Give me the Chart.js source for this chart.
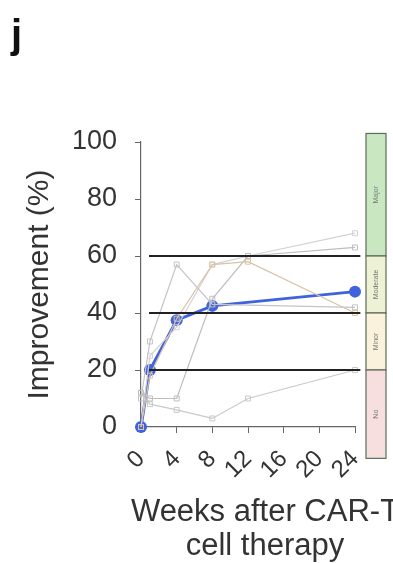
<!DOCTYPE html>
<html>
<head>
<meta charset="utf-8">
<script src="https://cdn.jsdelivr.net/npm/chart.js@4.4.1/dist/chart.umd.min.js"></script>
<style>
  html, body { margin: 0; padding: 0; background: #fff; }
</style>
</head>
<body>
<canvas id="chart" width="393" height="563"></canvas>
<script>
// data
const weeks = [0, 1, 4, 8, 12, 24];
const meanWeeks = [0, 1, 4, 8, 24];
const meanImprovement = [0, 20, 37.5, 42.5, 47.5];
const patientA = [10, 30, 57, 43, null, 42];
const patientB = [0, 18, 38, 57, 58, 40];
const patientC = [12, 10, 10, 45, 60, 63];
const patientD = [12, 8, 6, 3, 10, 20];
const patientE = [0, 25, 35, 57, 60, 68];
const responseLevels = [20, 40, 60];
const bandLabels = ["Major", "Moderate", "Minor", "No"];
const bandEdges = [103, 60, 40, 20, -11];
const xTicks = [0, 4, 8, 12, 16, 20, 24];
const yTicks = [0, 20, 40, 60, 80, 100];

const FONT = "'Liberation Sans', Arial, sans-serif";

function pts(xs, ys) {
    return xs.map((x, i) => ({ x: x, y: ys[i] }));
}

function patient(values, color) {
    return {
        data: pts(weeks, values),
        borderColor: color,
        backgroundColor: "rgba(255,255,255,0)",
        borderWidth: 1.2,
        pointStyle: "rect",
        pointRadius: 3.5,
        pointBorderWidth: 1,
        pointBorderColor: color,
        spanGaps: true,
        clip: false,
    };
}

const datasets = [];

// response cut-offs
responseLevels.forEach((lvl) => {
    datasets.push({
        data: [{ x: 0.9, y: lvl }, { x: 24.6, y: lvl }],
        borderColor: "#222",
        borderWidth: 2,
        pointRadius: 0,
        clip: false,
    });
});

datasets.push(patient(patientA, "#c4c4c4"));
datasets.push(patient(patientB, "#d9c3a6"));
datasets.push(patient(patientC, "#bdbdbd"));
datasets.push(patient(patientD, "#c9c9c9"));
datasets.push(patient(patientE, "#d2d2d2"));

// mean
datasets.push({
    data: pts(meanWeeks, meanImprovement),
    borderColor: "#3f63dc",
    backgroundColor: "#3f63dc",
    borderWidth: 3,
    pointRadius: 6,
    pointBorderWidth: 0,
    clip: false,
});

// side bar with response categories
const bandColors = ["#c9e8c2", "#eef2d4", "#fbf2dd", "#f7dfe0"];
const sideBar = {
    id: "sideBar",
    afterDatasetsDraw(chart) {
        const { ctx, scales: { y } } = chart;
        const x0 = 366, w = 20;
        ctx.save();
        for (let i = 0; i < bandLabels.length; i++) {
            const top = y.getPixelForValue(bandEdges[i]);
            const bot = y.getPixelForValue(bandEdges[i + 1]);
            ctx.fillStyle = bandColors[i];
            ctx.fillRect(x0, top, w, bot - top);
            ctx.strokeStyle = "#5d6b58";
            ctx.lineWidth = 1.2;
            ctx.strokeRect(x0, top, w, bot - top);
            ctx.save();
            ctx.translate(x0 + w / 2, (top + bot) / 2);
            ctx.rotate(-Math.PI / 2);
            ctx.fillStyle = "#777";
            ctx.font = "7px " + FONT;
            ctx.textAlign = "center";
            ctx.textBaseline = "middle";
            ctx.fillText(bandLabels[i], 0, 0);
            ctx.restore();
        }
        ctx.restore();
    },
};

// x title (wider than the plot, so drawn by hand)
const xTitle = {
    id: "xTitle",
    afterDraw(chart) {
        const { ctx, chartArea } = chart;
        const cx = (chartArea.left + chartArea.right) / 2 + 17;
        ctx.save();
        ctx.fillStyle = "#333";
        ctx.font = "31px " + FONT;
        ctx.textAlign = "center";
        ctx.textBaseline = "middle";
        ctx.fillText("Weeks after CAR-T", cx, chartArea.bottom + 85);
        ctx.fillText("cell therapy", cx, chartArea.bottom + 119);
        ctx.restore();
    },
};

new Chart(document.getElementById("chart"), {
    type: "line",
    data: { datasets: datasets },
    options: {
        responsive: false,
        animation: false,
        devicePixelRatio: 1,
        layout: { padding: { left: 11, right: 38, top: 0, bottom: 0 } },
        plugins: {
            legend: { display: false },
            tooltip: { enabled: false },
            title: {
                display: true,
                text: "j",
                align: "start",
                color: "#111",
                font: { family: FONT, size: 40, weight: "bold" },
                padding: { top: 13, bottom: 81 },
            },
        },
        scales: {
            x: {
                type: "linear",
                min: 0,
                max: 24,
                afterFit(scale) { scale.height = 136; },
                afterBuildTicks(scale) { scale.ticks = xTicks.map((v) => ({ value: v })); },
                grid: { drawOnChartArea: false, drawTicks: true, tickLength: 6, color: "#666" },
                border: { display: true, color: "#666", width: 1.2 },
                ticks: {
                    autoSkip: false,
                    minRotation: 45,
                    maxRotation: 45,
                    padding: 12,
                    color: "#333",
                    font: { family: FONT, size: 24 },
                },
            },
            y: {
                min: 0,
                max: 100,
                afterFit(scale) { scale.width = 130; },
                afterBuildTicks(scale) { scale.ticks = yTicks.map((v) => ({ value: v })); },
                grid: { drawOnChartArea: false, drawTicks: true, tickLength: 6, color: "#666" },
                border: { display: true, color: "#666", width: 1.2 },
                ticks: {
                    padding: 18,
                    color: "#333",
                    font: { family: FONT, size: 27 },
                },
                title: {
                    display: true,
                    text: "Improvement (%)",
                    color: "#333",
                    font: { family: FONT, size: 30 },
                    padding: { top: 11, bottom: 0 },
                },
            },
        },
    },
    plugins: [sideBar, xTitle],
});
</script>
</body>
</html>
